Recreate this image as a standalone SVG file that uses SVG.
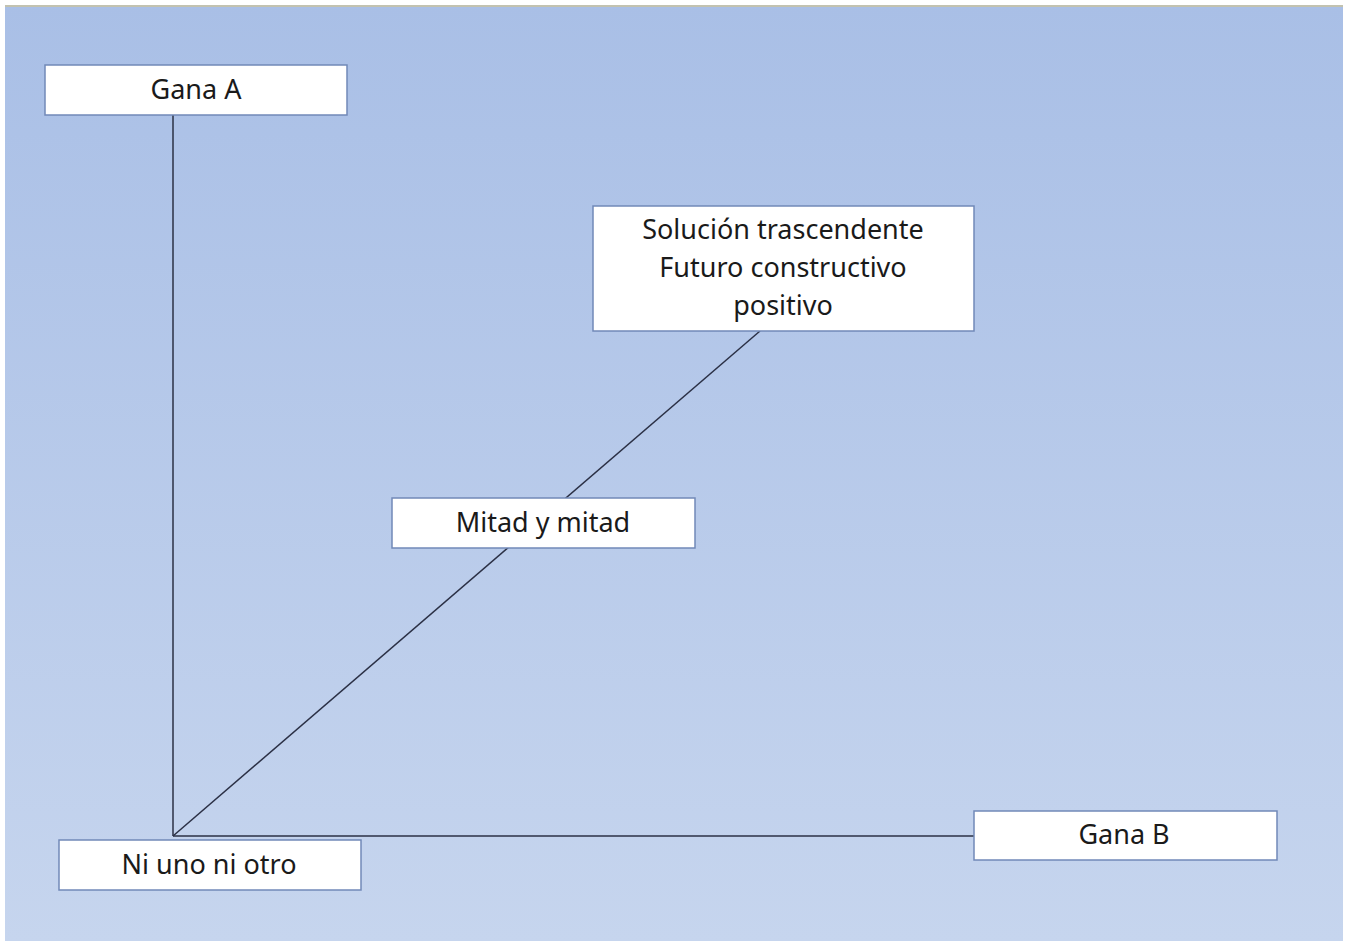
<svg xmlns="http://www.w3.org/2000/svg" width="1345" height="942" viewBox="0 0 1345 942">
<defs>
<linearGradient id="bg" x1="0" y1="0" x2="0" y2="1">
<stop offset="0" stop-color="#a9bfe6"/>
<stop offset="1" stop-color="#c6d5ee"/>
</linearGradient>
</defs>
<style>
.box{fill:#ffffff;stroke:#7189b8;stroke-width:1.5}
.t{font-family:"Noto Sans","Liberation Sans",sans-serif;font-size:27px;fill:#1a1a1a;text-anchor:middle}
.c{stroke:#2b3045;stroke-width:1.5;fill:none}
</style>
<rect x="0" y="0" width="1345" height="942" fill="#ffffff"/>
<rect x="5" y="5" width="1338" height="936" fill="url(#bg)"/>
<rect x="5" y="5" width="1338" height="2" fill="#c2c2b0"/>
<g id="connectors">
<line class="c" x1="173" y1="115" x2="173" y2="836"/>
<line class="c" x1="173" y1="836" x2="974" y2="836"/>
<line class="c" x1="173" y1="836" x2="760" y2="331"/>
</g>
<g id="gana-a">
<rect class="box" x="45" y="65" width="302" height="50"/>
<text class="t" x="196" y="99">Gana A</text>
</g>
<g id="solucion">
<rect class="box" x="593" y="206" width="381" height="125"/>
<text class="t" x="783" y="239">Solución trascendente</text>
<text class="t" x="783" y="277">Futuro constructivo</text>
<text class="t" x="783" y="315">positivo</text>
</g>
<g id="mitad">
<rect class="box" x="392" y="498" width="303" height="50"/>
<text class="t" x="543" y="532">Mitad y mitad</text>
</g>
<g id="ni-uno">
<rect class="box" x="59" y="840" width="302" height="50"/>
<text class="t" x="209" y="874">Ni uno ni otro</text>
</g>
<g id="gana-b">
<rect class="box" x="974" y="811" width="303" height="49"/>
<text class="t" x="1124" y="844">Gana B</text>
</g>
</svg>
